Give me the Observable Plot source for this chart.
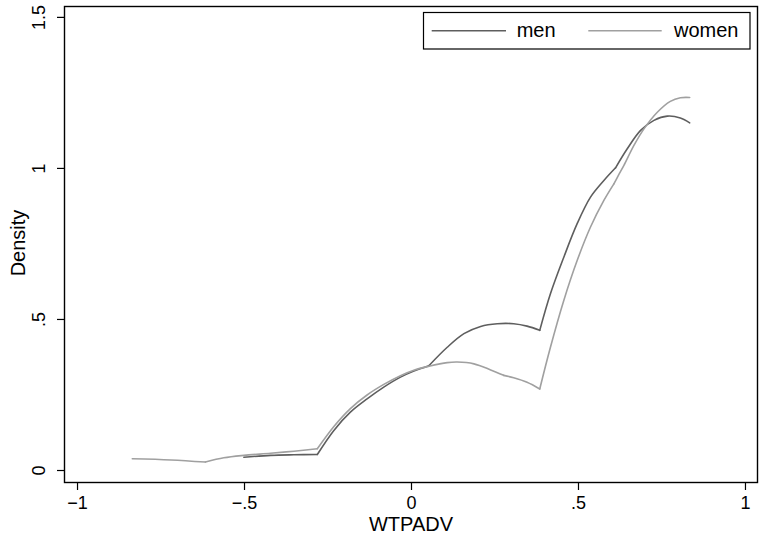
<!DOCTYPE html>
<html>
<head>
<meta charset="utf-8">
<script src="https://cdn.jsdelivr.net/npm/d3@7"></script>
<script src="https://cdn.jsdelivr.net/npm/@observablehq/plot@0.6"></script>
<style>
  html, body { margin: 0; padding: 0; background: #fff; }
  #wrap { position: relative; width: 760px; height: 533px; font-family: "Liberation Sans", Arial, sans-serif; }
  #legend { position: absolute; left: 0; top: 0; }
</style>
</head>
<body>
<div id="wrap"></div>
<script>
const menX = [-0.502, -0.422, -0.352, -0.282, -0.233, -0.183, -0.133, -0.083, -0.033, 0.007, 0.052, 0.107, 0.157, 0.207, 0.257, 0.306, 0.346, 0.384, 0.416, 0.456, 0.496, 0.536, 0.576, 0.611, 0.646, 0.686, 0.726, 0.766, 0.805, 0.833];
const menY = [0.044, 0.050, 0.052, 0.053, 0.132, 0.193, 0.237, 0.276, 0.309, 0.329, 0.347, 0.408, 0.453, 0.477, 0.486, 0.486, 0.478, 0.464, 0.585, 0.706, 0.817, 0.905, 0.960, 1.002, 1.065, 1.126, 1.159, 1.173, 1.167, 1.151];
const menKinks = [-0.282, 0.052, 0.384, 0.611];
const womenX = [-0.836, -0.72, -0.617, -0.562, -0.502, -0.422, -0.352, -0.282, -0.233, -0.183, -0.133, -0.083, -0.033, 0.007, 0.052, 0.107, 0.137, 0.187, 0.237, 0.276, 0.306, 0.346, 0.384, 0.416, 0.456, 0.496, 0.536, 0.576, 0.606, 0.621, 0.636, 0.666, 0.696, 0.736, 0.775, 0.805, 0.833];
const womenY = [0.039, 0.035, 0.028, 0.042, 0.050, 0.057, 0.064, 0.072, 0.145, 0.205, 0.250, 0.285, 0.314, 0.332, 0.345, 0.357, 0.359, 0.353, 0.333, 0.315, 0.307, 0.292, 0.270, 0.408, 0.563, 0.695, 0.806, 0.894, 0.949, 0.980, 1.010, 1.076, 1.131, 1.186, 1.222, 1.234, 1.235];
const womenKinks = [-0.617, -0.282, 0.276, 0.384, 0.606];
const seriesNames = ["men", "women"];
const seriesColors = ["#5e5e5e", "#a0a0a0"];
const xTicks = [-1, -0.5, 0, 0.5, 1];
const yTicks = [0, 0.5, 1, 1.5];
const xTitle = "WTPADV";
const yTitle = "Density";

// split each curve into smooth pieces at its kinks (kink point shared by both pieces)
function pieces(name, xs, ys, kinks) {
  const out = [];
  let seg = 0;
  xs.forEach((x, i) => {
    out.push({series: name, seg: name + seg, x, y: ys[i]});
    if (kinks.includes(x) && i > 0 && i < xs.length - 1) {
      seg++;
      out.push({series: name, seg: name + seg, x, y: ys[i]});
    }
  });
  return out;
}
const rows = [
  ...pieces("men", menX, menY, menKinks),
  ...pieces("women", womenX, womenY, womenKinks)
];
const fmt = d => d === 0 ? "0" : (d < 0 ? "\u2212" : "") + String(Math.abs(d)).replace(/^0\./, ".");
const FONT = "'Liberation Sans', Arial, sans-serif";

const chart = Plot.plot({
  width: 760,
  height: 533,
  marginLeft: 64,
  marginRight: 3,
  marginTop: 6,
  marginBottom: 51,
  style: {fontFamily: FONT, background: "#fff", color: "#000"},
  x: {domain: [-1.039, 1.036], label: null},
  y: {domain: [-0.0397, 1.536], label: null},
  color: {domain: seriesNames, range: seriesColors},
  marks: [
    Plot.line(rows, {x: "x", y: "y", z: "seg", stroke: "series", strokeWidth: 1.6, curve: "catmull-rom", strokeLinejoin: "round", strokeLinecap: "round"}),
    Plot.frame({stroke: "#000", strokeWidth: 1.4}),
    Plot.axisX({ticks: xTicks, tickFormat: fmt, tickSize: 8, tickPadding: 6, fontSize: 18, strokeWidth: 1.2, label: null}),
    Plot.axisY({ticks: yTicks, tickFormat: () => "", tickSize: 7, strokeWidth: 1.2, label: null}),
    Plot.text(yTicks, {y: d => d, text: d => fmt(d), frameAnchor: "left", dx: -25, rotate: -90, fontSize: 18, textAnchor: "middle", lineAnchor: "middle", fill: "#000"}),
    Plot.text([yTitle], {text: d => d, frameAnchor: "left", dx: -45.5, dy: -1.5, rotate: -90, fontSize: 20, textAnchor: "middle", lineAnchor: "middle", fill: "#000"}),
    Plot.text([xTitle], {text: d => d, frameAnchor: "bottom", dy: 33.8, fontSize: 20, textAnchor: "middle", lineAnchor: "top", fill: "#000"})
  ]
});

const wrap = document.getElementById("wrap");
wrap.appendChild(chart);

// legend overlay
const ns = "http://www.w3.org/2000/svg";
const leg = document.createElementNS(ns, "svg");
leg.setAttribute("id", "legend");
leg.setAttribute("width", 760);
leg.setAttribute("height", 533);
leg.setAttribute("font-family", FONT);
const box = document.createElementNS(ns, "rect");
box.setAttribute("x", 423.5); box.setAttribute("y", 12.5);
box.setAttribute("width", 326.5); box.setAttribute("height", 36.5);
box.setAttribute("fill", "#fff"); box.setAttribute("stroke", "#000"); box.setAttribute("stroke-width", 1.2);
leg.appendChild(box);
const items = [
  {x1: 431.7, x2: 506, tx: 516.7},
  {x1: 588.3, x2: 661.7, tx: 674}
];
seriesNames.forEach((name, i) => {
  const it = items[i];
  const ln = document.createElementNS(ns, "line");
  ln.setAttribute("x1", it.x1); ln.setAttribute("x2", it.x2);
  ln.setAttribute("y1", 30.7); ln.setAttribute("y2", 30.7);
  ln.setAttribute("stroke", seriesColors[i]); ln.setAttribute("stroke-width", 1.6);
  leg.appendChild(ln);
  const tx = document.createElementNS(ns, "text");
  tx.setAttribute("x", it.tx); tx.setAttribute("y", 36.7);
  tx.setAttribute("font-size", 20); tx.setAttribute("fill", "#000");
  tx.textContent = name;
  leg.appendChild(tx);
});
wrap.appendChild(leg);
</script>
</body>
</html>
